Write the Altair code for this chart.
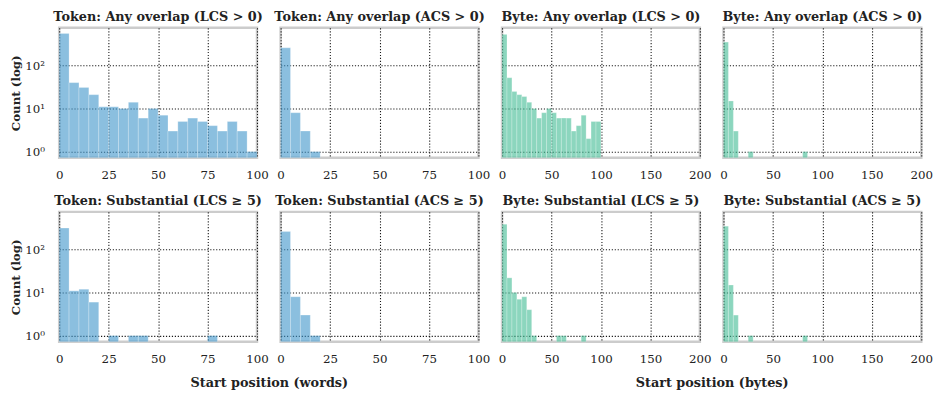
import altair as alt
import pandas as pd

# ---------------- data ----------------
BIN_WIDTH = 5
token_ticks = [0, 25, 50, 75, 100]
byte_ticks = [0, 50, 100, 150, 200]
y_ticks = [1, 10, 100]
y_tick_labels = ["10⁰", "10¹", "10²"]

tok_lcs_any = [557, 40, 31, 21, 11, 11, 10, 14, 6, 10, 7, 3, 5, 6, 5, 4, 3, 5, 3, 1]
tok_acs_any = [257, 8, 3, 1, 0, 0, 0, 0, 0, 0, 0, 0, 0, 0, 0, 0, 0, 0, 0, 0]
byte_lcs_any = [528, 52, 25, 21, 19, 14, 10, 6, 8, 10, 8, 6, 6, 6, 3, 4, 7, 2, 5, 5]
byte_acs_any = [350, 15, 3, 0, 0, 1, 0, 0, 0, 0, 0, 0, 0, 0, 0, 0, 1, 0, 0, 0]
tok_lcs_sub = [315, 11, 12, 6, 0, 1, 0, 1, 1, 0, 0, 0, 0, 0, 0, 1, 0, 0, 0, 0]
tok_acs_sub = [261, 8, 3, 1, 0, 0, 0, 0, 0, 0, 0, 0, 0, 0, 0, 0, 0, 0, 0, 0]
byte_lcs_sub = [387, 22, 10, 7, 8, 4, 1, 0, 0, 0, 0, 1, 1, 0, 0, 0, 1, 0, 0, 0]
byte_acs_sub = [349, 15, 3, 0, 0, 1, 0, 0, 0, 0, 0, 0, 0, 0, 0, 0, 1, 0, 0, 0]

titles = [
    "Token: Any overlap (LCS > 0)", "Token: Any overlap (ACS > 0)",
    "Byte: Any overlap (LCS > 0)", "Byte: Any overlap (ACS > 0)",
    "Token: Substantial (LCS ≥ 5)", "Token: Substantial (ACS ≥ 5)",
    "Byte: Substantial (LCS ≥ 5)", "Byte: Substantial (ACS ≥ 5)",
]
series = [tok_lcs_any, tok_acs_any, byte_lcs_any, byte_acs_any,
          tok_lcs_sub, tok_acs_sub, byte_lcs_sub, byte_acs_sub]
kinds = ["token", "token", "byte", "byte", "token", "token", "byte", "byte"]

Y_MIN, Y_MAX = 0.72, 750
BLUE = "#3E94CA"
GREEN = "#3FBB93"
FONT = "DejaVu Serif"
W, H = 201, 132

label_expr = ("datum.value == 1 ? '%s' : datum.value == 10 ? '%s' : '%s'"
              % tuple(y_tick_labels))


def panel(i):
    counts = series[i]
    kind = kinds[i]
    df = pd.DataFrame({
        "start": [k * BIN_WIDTH for k in range(len(counts))],
        "end": [(k + 1) * BIN_WIDTH for k in range(len(counts))],
        "count": counts,
    })
    df = df[df["count"] > 0]
    ticks = token_ticks if kind == "token" else byte_ticks
    color = BLUE if kind == "token" else GREEN
    first_col = i % 4 == 0
    xtitle = None
    if i == 4:
        xtitle = "Start position (words)"
    if i == 6:
        xtitle = "Start position (bytes)"

    x_axis = alt.Axis(values=ticks, grid=True, title=xtitle, labelPadding=12,
                      tickSize=0, ticks=False, domain=False,
                      titleX=213, titleY=35, titleAlign="center",
                      titleBaseline="top", labelFlush=False)
    if first_col:
        y_axis = alt.Axis(values=y_ticks, grid=True, title="Count (log)",
                          labelExpr=label_expr, ticks=False, tickSize=0,
                          domain=False, labelPadding=15, titlePadding=2,
                          titleFontSize=12)
    else:
        y_axis = alt.Axis(values=y_ticks, grid=True, title=None,
                          labels=False, ticks=False, tickSize=0, domain=False)

    return alt.Chart(df).mark_rect(
        color=color, fillOpacity=0.6, stroke="white", strokeWidth=0.5,
        strokeOpacity=0.5
    ).encode(
        x=alt.X("start:Q", axis=x_axis,
                scale=alt.Scale(domain=[ticks[0], ticks[-1]], nice=False, zero=False)),
        x2="end:Q",
        y=alt.Y("count:Q", axis=y_axis,
                scale=alt.Scale(type="log", domain=[Y_MIN, Y_MAX], nice=False)),
        y2=alt.datum(Y_MIN),
    ).properties(
        width=W, height=H,
        title=alt.TitleParams(titles[i], font=FONT, fontSize=13,
                              fontWeight="bold", color="#222", offset=4),
    )


chart = alt.ConcatChart(
    concat=[panel(i) for i in range(8)],
    columns=4,
    spacing={"row": 55, "column": 24},
    bounds="flush",
    padding={"left": 0, "top": -2, "right": 5, "bottom": 5},
).configure_view(
    stroke="#cccccc", strokeWidth=2.5
).configure_axis(
    labelFont=FONT, labelFontSize=12, labelColor="#222",
    titleFont=FONT, titleFontSize=13, titleFontWeight="bold", titleColor="#222",
    gridColor="#000", gridDash=[1.2, 1.8], gridWidth=1.1, gridOpacity=0.9,
).configure_title(
    anchor="middle"
)

chart.save("out.html", embed_options={"renderer": "svg", "actions": False})
